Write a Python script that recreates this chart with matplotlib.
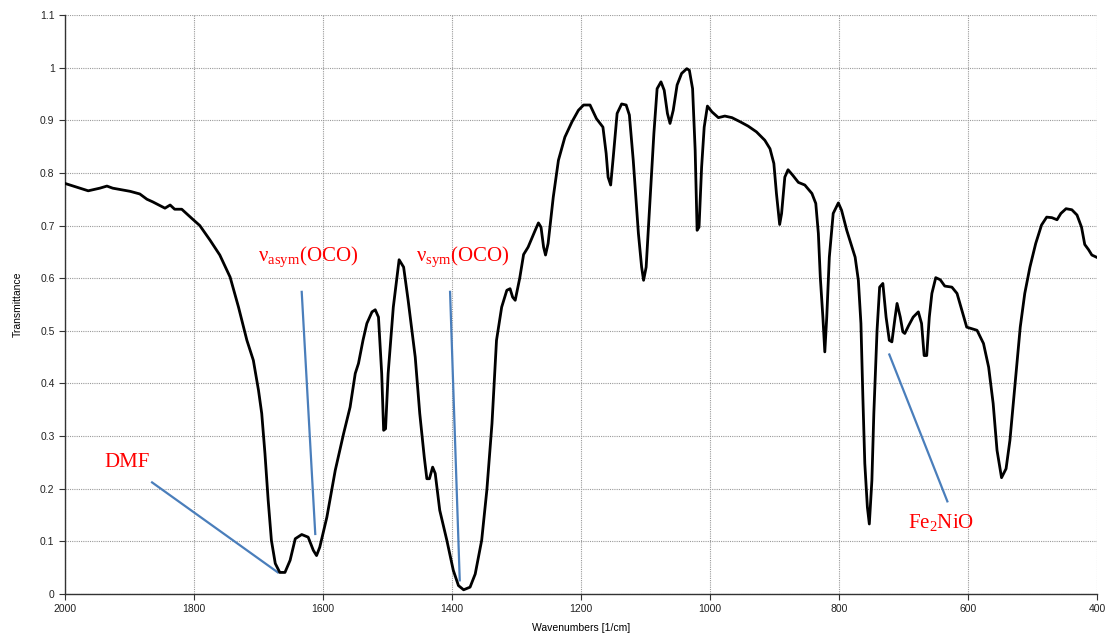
import matplotlib
matplotlib.use("Agg")
import matplotlib.pyplot as plt

# IR spectrum (wavenumber in 1/cm, transmittance)
wavenumbers = [
    2000, 1964, 1946, 1935, 1926, 1899, 1884, 1873, 1864, 1845, 1837, 1830, 1819, 1802,
    1791, 1775, 1760, 1744, 1731, 1718, 1708, 1700, 1695, 1690, 1685, 1680, 1674, 1667,
    1659, 1651, 1643, 1633, 1623, 1615, 1610, 1605, 1594, 1581, 1568, 1558, 1550, 1545,
    1538, 1532, 1524, 1519, 1514, 1509, 1506, 1503, 1499, 1491, 1482, 1475, 1468, 1457,
    1450, 1443, 1439, 1435, 1430, 1426, 1419, 1408, 1398, 1390, 1382, 1372, 1364, 1354,
    1346, 1338, 1331, 1323, 1315, 1310, 1306, 1302, 1295, 1289, 1282, 1271, 1266, 1262,
    1258, 1255, 1251, 1243, 1235, 1225, 1214, 1204, 1196, 1186, 1176, 1166, 1161, 1158,
    1154, 1150, 1144, 1137, 1130, 1125, 1119, 1111, 1106, 1103, 1099, 1093, 1087, 1082,
    1076, 1071, 1066, 1062, 1057, 1051, 1044, 1036, 1032, 1027, 1023, 1020, 1017, 1013,
    1009, 1004, 997, 987, 977, 966, 953, 941, 928, 915, 907, 901, 897, 892, 889, 884,
    879, 872, 863, 853, 842, 836, 832, 829, 825, 822, 819, 815, 809, 801, 796, 788,
    775, 770, 766, 763, 760, 756, 753, 749, 746, 741, 737, 732, 727, 722, 718, 713,
    710, 705, 701, 698, 692, 685, 677, 672, 668, 664, 660, 656, 650, 643, 636, 625,
    617, 608, 602, 586, 576, 568, 561, 555, 548, 541, 535, 527, 519, 512, 504, 495,
    486, 478, 470, 462, 456, 448, 439, 431, 424, 419, 413, 408, 401,
]
transmittance = [
    0.780, 0.766, 0.771, 0.775, 0.771, 0.765, 0.760, 0.750, 0.745, 0.733, 0.739, 0.731, 0.731, 0.712,
    0.700, 0.672, 0.644, 0.602, 0.545, 0.482, 0.444, 0.387, 0.343, 0.267, 0.178, 0.102, 0.058, 0.041,
    0.041, 0.064, 0.105, 0.113, 0.108, 0.083, 0.073, 0.089, 0.146, 0.235, 0.305, 0.355, 0.419, 0.438,
    0.482, 0.514, 0.536, 0.540, 0.526, 0.419, 0.311, 0.314, 0.419, 0.545, 0.635, 0.621, 0.558, 0.450,
    0.343, 0.260, 0.219, 0.219, 0.241, 0.229, 0.159, 0.102, 0.045, 0.016, 0.008, 0.013, 0.038, 0.102,
    0.197, 0.324, 0.482, 0.545, 0.577, 0.580, 0.564, 0.558, 0.600, 0.645, 0.659, 0.691, 0.705, 0.697,
    0.659, 0.644, 0.666, 0.754, 0.824, 0.868, 0.897, 0.919, 0.929, 0.929, 0.903, 0.887, 0.837, 0.792,
    0.777, 0.830, 0.913, 0.931, 0.929, 0.910, 0.824, 0.685, 0.621, 0.596, 0.621, 0.748, 0.875, 0.960,
    0.973, 0.957, 0.913, 0.894, 0.919, 0.967, 0.989, 0.998, 0.995, 0.960, 0.843, 0.691, 0.697, 0.811,
    0.887, 0.927, 0.916, 0.905, 0.908, 0.905, 0.897, 0.889, 0.878, 0.862, 0.846, 0.818, 0.761, 0.702, 0.723, 0.792,
    0.806, 0.796, 0.782, 0.777, 0.761, 0.742, 0.685, 0.602, 0.526, 0.460, 0.526, 0.640, 0.723, 0.743, 0.729, 0.691,
    0.640, 0.596, 0.514, 0.374, 0.248, 0.165, 0.133, 0.216, 0.343, 0.501, 0.583, 0.590, 0.526, 0.482, 0.479, 0.526,
    0.552, 0.526, 0.498, 0.495, 0.510, 0.526, 0.536, 0.514, 0.453, 0.453, 0.526, 0.571, 0.601, 0.597, 0.585, 0.583,
    0.571, 0.533, 0.507, 0.501, 0.476, 0.431, 0.362, 0.273, 0.221, 0.238, 0.292, 0.400, 0.507, 0.571, 0.621, 0.666,
    0.701, 0.716, 0.715, 0.711, 0.723, 0.732, 0.730, 0.720, 0.697, 0.664, 0.654, 0.644, 0.640,
]

# annotation labels and pointer lines (start, end in data units)
labels = ["DMF", "ν$_{\\mathrm{asym}}$(OCO)", "ν$_{\\mathrm{sym}}$(OCO)", "Fe$_{\\mathrm{2}}$NiO"]
label_pos = [(1904, 0.250), (1623, 0.640), (1383, 0.640), (642, 0.134)]
pointer_x = [(1865, 1670), (1633, 1612), (1403, 1388), (722, 632)]
pointer_y = [(0.212, 0.041), (0.574, 0.114), (0.574, 0.026), (0.455, 0.176)]

xticks = [2000, 1800, 1600, 1400, 1200, 1000, 800, 600, 400]
yticks = [0, 0.1, 0.2, 0.3, 0.4, 0.5, 0.6, 0.7, 0.8, 0.9, 1, 1.1]

plt.rcParams['font.family'] = ['Liberation Sans', 'DejaVu Sans']
plt.rcParams['mathtext.fontset'] = 'custom'
plt.rcParams['mathtext.rm'] = 'Liberation Serif'

fig = plt.figure(figsize=(11.08, 6.38), dpi=100)
ax = fig.add_axes([65 / 1108, 1 - 594 / 638, (1097 - 65) / 1108, (594 - 15) / 638])

ax.plot(wavenumbers, transmittance, color='black', lw=2, solid_joinstyle='round', zorder=3)

for (x0, x1), (y0, y1) in zip(pointer_x, pointer_y):
    ax.plot([x0, x1], [y0, y1], color='#4a7ebb', lw=1.6, zorder=2)

for text, (tx, ty) in zip(labels, label_pos):
    ax.text(tx, ty, text, color='#ff0000', fontsize=15, family=['Liberation Serif'],
            ha='center', va='center', zorder=4)

ax.set_xlim(2000, 400)
ax.set_ylim(0, 1.1)
ax.set_xticks(xticks)
ax.set_xticklabels([str(t) for t in xticks])
ax.set_yticks(yticks)
ax.set_yticklabels(['0', '0.1', '0.2', '0.3', '0.4', '0.5', '0.6', '0.7', '0.8', '0.9', '1', '1.1'])
ax.tick_params(labelsize=7.5, length=4, width=0.8, color='#333333', labelcolor='#222222')
ax.grid(True, color='#9a9a9a', linestyle=(0, (1, 1)), lw=0.8)
for side in ['top', 'right']:
    ax.spines[side].set_visible(False)
for side in ['left', 'bottom']:
    ax.spines[side].set_color('#333333')
    ax.spines[side].set_linewidth(1)

ax.set_xlabel('Wavenumbers [1/cm]', fontsize=7.5, labelpad=6)
ax.set_ylabel('Transmittance', fontsize=7.5, labelpad=12)

fig.savefig('out.png', dpi=100)
